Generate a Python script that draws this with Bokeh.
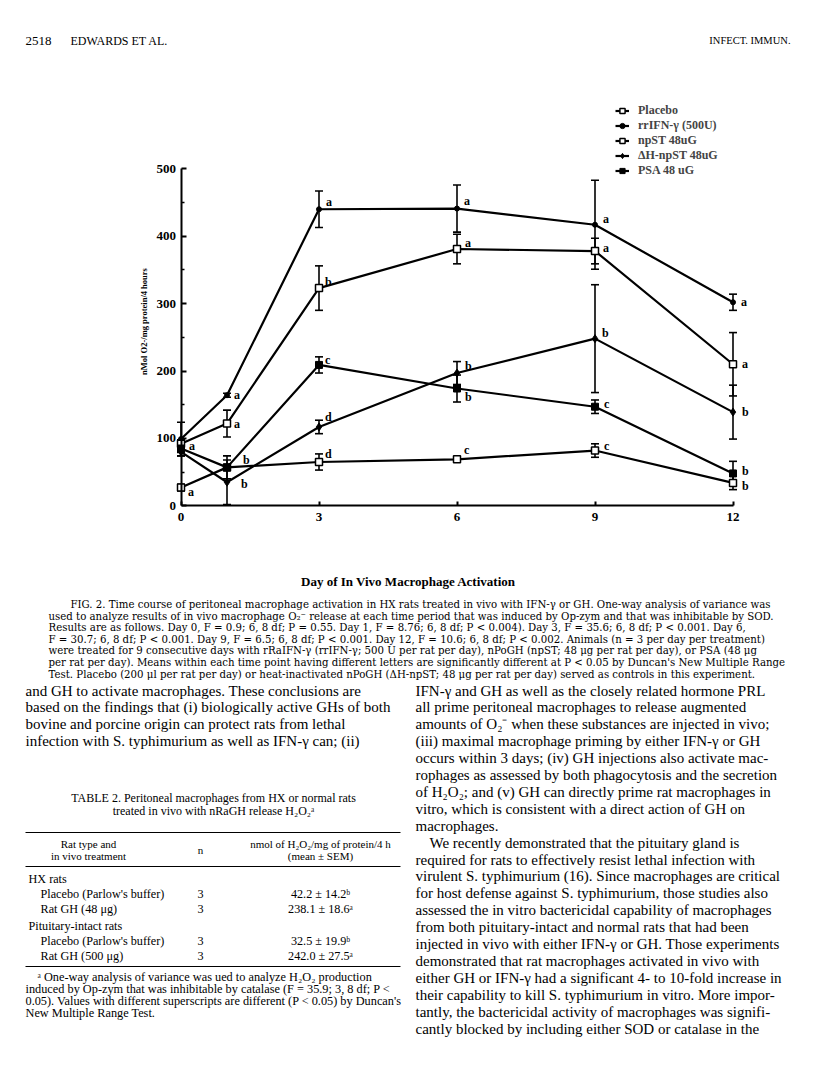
import math
from bokeh.plotting import figure
from bokeh.models import (Range1d, LinearAxis, FixedTicker, ColumnDataSource, Whisker,
                          TeeHead, Label, Legend, LegendItem)
from bokeh.core.properties import value
from bokeh.embed import file_html
from bokeh.resources import INLINE

# ---------------- data ----------------
days = [0, 1, 3, 6, 9, 12]
x_ticks = [0, 3, 6, 9, 12]
y_ticks = [0, 100, 200, 300, 400, 500]

series_names = ["Placebo", "rrIFN-\u03b3 (500U)", "npST 48uG", "\u0394H-npST 48uG", "PSA 48 uG"]

placebo = [27, 57, 65, 69, 82, 34]
placebo_err = [5, 4, 12, 3, 10, 10]
rrifn = [99, 164, 440, 441, 417, 302]
rrifn_err = [25, 3, 27, 35, 66, 12]
npst = [92, 122, 323, 381, 378, 210]
npst_err = [6, 20, 33, 22, 19, 47]
dh_npst = [80, 35, 117, 197, 248, 139]
dh_npst_err = [6, 33, 10, 17, 80, 40]
psa = [85, 57, 209, 174, 147, 48]
psa_err = [6, 17, 12, 20, 10, 18]

placebo_letters = ["a", "", "d", "c", "c", "b"]
rrifn_letters = ["", "a", "a", "a", "a", "a"]
npst_letters = ["a", "a", "b", "a", "a", "a"]
dh_npst_letters = ["", "b", "d", "b", "b", "b"]
psa_letters = ["", "b", "c", "b", "c", "b"]

x_title = "Day of In Vivo Macrophage Activation"
y_title = "nMol O2-/mg protein/4 hours"

# ---------------- page geometry ----------------
W, H = 800, 1060
X0PX, XSC = 180.5, 46.0      # px of day 0, px per day
Y0PX, YSC = 505.3, 0.674     # px of value 0, px per unit

def dx(px):
    return (px - X0PX) / XSC

def dy(py):
    return (Y0PX - py) / YSC

p = figure(width=W, height=H, x_range=Range1d(dx(0), dx(W)),
           y_range=Range1d(dy(H), dy(0)), output_backend="svg",
           toolbar_location=None, min_border=0, x_axis_type=None, y_axis_type=None)
p.outline_line_color = None
p.background_fill_color = "white"
p.border_fill_color = "white"

SERIF = "Liberation Serif"
CAPFONT = "DejaVu Serif"

def style_axis(ax):
    ax.axis_line_width = 2
    ax.major_tick_line_width = 2
    ax.minor_tick_line_width = 1.5
    ax.major_tick_out = 0
    ax.minor_tick_out = 0
    ax.major_label_text_font = SERIF
    ax.major_label_text_font_style = "bold"
    ax.major_label_text_font_size = "13px"
    ax.major_label_text_color = "black"

xa = LinearAxis(fixed_location=0, bounds=(0, 12),
                ticker=FixedTicker(ticks=x_ticks, minor_ticks=[]))
style_axis(xa)
xa.major_tick_in = 4
xa.major_label_standoff = 7
p.add_layout(xa, "below")

ya = LinearAxis(fixed_location=0, bounds=(0, 500),
                ticker=FixedTicker(ticks=y_ticks, minor_ticks=[t + 50 for t in y_ticks[:-1]]))
style_axis(ya)
ya.major_tick_in = 5
ya.minor_tick_in = 3
ya.major_label_standoff = 5
p.add_layout(ya, "left")

# ---------------- series ----------------
series = [
    (placebo, placebo_err, placebo_letters, dict(marker="square", size=7, fill_color="white", line_width=1.5)),
    (rrifn, rrifn_err, rrifn_letters, dict(marker="circle", size=5, fill_color="black", line_width=1)),
    (npst, npst_err, npst_letters, dict(marker="square", size=7, fill_color="white", line_width=1.5)),
    (dh_npst, dh_npst_err, dh_npst_letters, dict(marker="diamond", size=8, fill_color="black", line_width=1)),
    (psa, psa_err, psa_letters, dict(marker="square", size=7, fill_color="black", line_width=1)),
]
# letter offsets (screen px, +down)
letter_offsets = [
    [(7, 4), (0, 0), (6, -8), (7, -9), (9, -5), (9, 3)],
    [(0, 0), (7, 0), (7, -7), (7, -8), (8, -6), (8, 0)],
    [(8, 2), (7, 0), (6, -6), (8, -6), (8, -3), (9, 0)],
    [(0, 0), (14, 2), (6, -10), (8, -7), (7, -6), (9, 0)],
    [(0, 0), (16, -7), (6, -5), (8, 8), (9, -3), (9, -2)],
]

items = []
for (vals, errs, lets, mk), offs, name in zip(series, letter_offsets, series_names):
    lr = p.line(days, vals, line_width=2.2, line_color="black")
    src = ColumnDataSource(dict(x=days, y=vals,
                                upper=[v + e for v, e in zip(vals, errs)],
                                lower=[v - e for v, e in zip(vals, errs)]))
    p.add_layout(Whisker(source=src, base="x", upper="upper", lower="lower",
                         dimension="height", line_width=1.6, line_color="black",
                         upper_head=TeeHead(size=8, line_width=1.6, line_color="black"),
                         lower_head=TeeHead(size=8, line_width=1.6, line_color="black")))
    mr = p.scatter("x", "y", source=src, line_color="black", **mk)
    tsrc = ColumnDataSource(dict(x=days, y=vals, t=lets,
                                 xo=[o[0] for o in offs], yo=[o[1] for o in offs]))
    p.text("x", "y", text="t", source=tsrc, x_offset="xo", y_offset="yo",
           text_font=value(SERIF), text_font_style="bold", text_font_size="12px",
           text_baseline="middle", text_align="left", text_color="black")
    items.append(LegendItem(label=name, renderers=[lr, mr]))

legend = Legend(items=items, location=(615, 882), orientation="vertical",
                glyph_width=14, glyph_height=13, label_height=13, spacing=0,
                padding=0, margin=0, label_standoff=9,
                label_text_font=SERIF, label_text_font_style="bold",
                label_text_font_size="12px", label_text_line_height=1.0,
                border_line_color=None, background_fill_alpha=0)
p.add_layout(legend, "center")

# ---------------- page text ----------------
def txt(px, py, s, size=13.5, style="normal", align="left", angle=0.0, font=SERIF):
    p.add_layout(Label(x=dx(px), y=dy(py), text=s, text_font=font,
                       text_font_size=f"{size}px", text_font_style=style,
                       text_align=align, text_baseline="middle", angle=angle,
                       text_color="black"))

def rule(px0, px1, py, w=1):
    p.segment(x0=[dx(px0)], y0=[dy(py)], x1=[dx(px1)], y1=[dy(py)],
              line_color="black", line_width=w)

txt(143, 321, y_title, size=8.5, style="bold", align="center", angle=math.pi / 2)
txt(408, 581, x_title, size=13, style="bold", align="center")

txt(25, 40, "2518", size=13)
txt(70, 40, "EDWARDS ET AL.", size=12)
txt(790, 40, "INFECT. IMMUN.", size=10.5, align="right")

caption = [
    "FIG. 2.  Time course of peritoneal macrophage activation in HX rats treated in vivo with IFN-\u03b3 or GH. One-way analysis of variance was",
    "used to analyze results of in vivo macrophage O\u2082\u207b release at each time period that was induced by Op-zym and that was inhibitable by SOD.",
    "Results are as follows. Day 0, F = 0.9; 6, 8 df; P = 0.55. Day 1, F = 8.76; 6, 8 df; P < 0.004). Day 3, F = 35.6; 6, 8 df; P < 0.001. Day 6,",
    "F = 30.7; 6, 8 df; P < 0.001. Day 9, F = 6.5; 6, 8 df; P < 0.001. Day 12, F = 10.6; 6, 8 df; P < 0.002. Animals (n = 3 per day per treatment)",
    "were treated for 9 consecutive days with rRaIFN-\u03b3 (rrIFN-\u03b3; 500 U per rat per day), nPoGH (npST; 48 \u03bcg per rat per day), or PSA (48 \u03bcg",
    "per rat per day). Means within each time point having different letters are significantly different at P < 0.05 by Duncan's New Multiple Range",
    "Test. Placebo (200 \u03bcl per rat per day) or heat-inactivated nPoGH (\u0394H-npST; 48 \u03bcg per rat per day) served as controls in this experiment.",
]
for i, s in enumerate(caption):
    txt(70 if i == 0 else 48, 604 + 11.6 * i, s, size=10.2, font=CAPFONT)

BODY = 15.0
left_body = [
    "and GH to activate macrophages. These conclusions are",
    "based on the findings that (i) biologically active GHs of both",
    "bovine and porcine origin can protect rats from lethal",
    "infection with S. typhimurium as well as IFN-\u03b3 can; (ii)",
]
for i, s in enumerate(left_body):
    txt(25, 690 + 16.9 * i, s, size=BODY)

right_body = [
    "IFN-\u03b3 and GH as well as the closely related hormone PRL",
    "all prime peritoneal macrophages to release augmented",
    "amounts of O\u2082\u207b when these substances are injected in vivo;",
    "(iii) maximal macrophage priming by either IFN-\u03b3 or GH",
    "occurs within 3 days; (iv) GH injections also activate mac-",
    "rophages as assessed by both phagocytosis and the secretion",
    "of H\u2082O\u2082; and (v) GH can directly prime rat macrophages in",
    "vitro, which is consistent with a direct action of GH on",
    "macrophages.",
    "We recently demonstrated that the pituitary gland is",
    "required for rats to effectively resist lethal infection with",
    "virulent S. typhimurium (16). Since macrophages are critical",
    "for host defense against S. typhimurium, those studies also",
    "assessed the in vitro bactericidal capability of macrophages",
    "from both pituitary-intact and normal rats that had been",
    "injected in vivo with either IFN-\u03b3 or GH. Those experiments",
    "demonstrated that rat macrophages activated in vivo with",
    "either GH or IFN-\u03b3 had a significant 4- to 10-fold increase in",
    "their capability to kill S. typhimurium in vitro. More impor-",
    "tantly, the bactericidal activity of macrophages was signifi-",
    "cantly blocked by including either SOD or catalase in the",
]
for i, s in enumerate(right_body):
    txt(429 if i == 9 else 415, 690 + 16.9 * i, s, size=BODY)

# table
txt(213, 797, "TABLE 2. Peritoneal macrophages from HX or normal rats", size=12, align="center")
txt(213, 810, "treated in vivo with nRaGH release H\u2082O\u2082\u1d43", size=12, align="center")
rule(25, 400, 832)
txt(88, 843, "Rat type and", size=11, align="center")
txt(88, 855, "in vivo treatment", size=11, align="center")
txt(200, 849, "n", size=11, align="center")
txt(320, 843, "nmol of H\u2082O\u2082/mg of protein/4 h", size=11, align="center")
txt(320, 855, "(mean \u00b1 SEM)", size=11, align="center")
rule(25, 400, 866)
rows = [
    (878, "HX rats", "", "", 28),
    (893, "Placebo (Parlow's buffer)", "3", "42.2 \u00b1 14.2\u1d47", 40),
    (908, "Rat GH (48 \u03bcg)", "3", "238.1 \u00b1 18.6\u1d43", 40),
    (925, "Pituitary-intact rats", "", "", 28),
    (940, "Placebo (Parlow's buffer)", "3", "32.5 \u00b1 19.9\u1d47", 40),
    (955, "Rat GH (500 \u03bcg)", "3", "242.0 \u00b1 27.5\u1d43", 40),
]
for yy, a, b, c, xx in rows:
    txt(xx, yy, a, size=12.2)
    if b:
        txt(200, yy, b, size=12.2, align="center")
        txt(320, yy, c, size=12.2, align="center")
rule(25, 400, 966)
foot = [
    "\u1d43 One-way analysis of variance was ued to analyze H\u2082O\u2082 production",
    "induced by Op-zym that was inhibitable by catalase (F = 35.9; 3, 8 df; P <",
    "0.05). Values with different superscripts are different (P < 0.05) by Duncan's",
    "New Multiple Range Test.",
]
for i, s in enumerate(foot):
    txt(37 if i == 0 else 25, 976 + 12 * i, s, size=12.3)

open("out.html", "w").write(file_html(p, INLINE))
